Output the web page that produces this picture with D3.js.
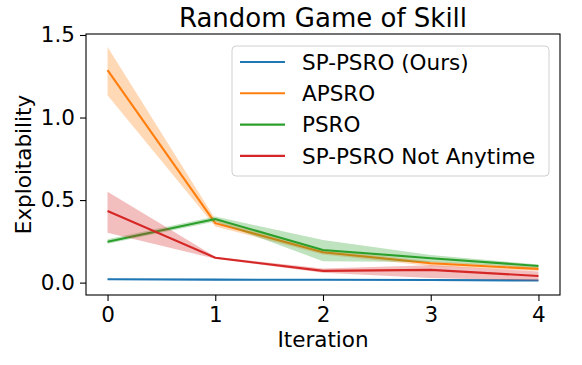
<!DOCTYPE html>
<html>
<head>
<meta charset="utf-8">
<script src="https://cdn.jsdelivr.net/npm/d3@7"></script>
<style>
  body { margin: 0; background: #fff; }
  svg { display: block; font-family: "DejaVu Sans", sans-serif; }
</style>
</head>
<body>
<div id="plotSect"></div>
<script>
// data
let iterations = [0, 1, 2, 3, 4];
let seriesNames = ["SP-PSRO (Ours)", "APSRO", "PSRO", "SP-PSRO Not Anytime"];
let seriesColors = ["#1f77b4", "#ff7f0e", "#2ca02c", "#d62728"];

let spMean  = [0.020, 0.018, 0.017, 0.016, 0.013];
let spLow   = [0.017, 0.015, 0.014, 0.013, 0.010];
let spHigh  = [0.023, 0.021, 0.020, 0.019, 0.016];

let apMean  = [1.287, 0.360, 0.184, 0.117, 0.083];
let apLow   = [1.135, 0.340, 0.170, 0.100, 0.070];
let apHigh  = [1.428, 0.385, 0.200, 0.130, 0.095];

let psMean  = [0.248, 0.385, 0.198, 0.148, 0.101];
let psLow   = [0.235, 0.370, 0.130, 0.125, 0.090];
let psHigh  = [0.262, 0.400, 0.258, 0.168, 0.110];

let naMean  = [0.434, 0.151, 0.071, 0.077, 0.040];
let naLow   = [0.302, 0.145, 0.060, 0.028, 0.012];
let naHigh  = [0.550, 0.157, 0.085, 0.105, 0.068];

let yTicks = [0, 0.5, 1.0, 1.5];

let series = [
    {name: seriesNames[0], color: seriesColors[0], mean: spMean, low: spLow, high: spHigh},
    {name: seriesNames[1], color: seriesColors[1], mean: apMean, low: apLow, high: apHigh},
    {name: seriesNames[2], color: seriesColors[2], mean: psMean, low: psLow, high: psHigh},
    {name: seriesNames[3], color: seriesColors[3], mean: naMean, low: naLow, high: naHigh}
];

// chart setup
let SVGwidth = 582,
SVGheight = 365,
margin = {top: 34, right: 22, bottom: 70, left: 86},
width = SVGwidth - margin.left - margin.right,
height = SVGheight - margin.top - margin.bottom;

let fontSize = 21.5;

let svg = d3.select("#plotSect").append("svg")
    .attr("width", SVGwidth)
    .attr("height", SVGheight)
    .append("g")
    .attr("transform", "translate(" + margin.left + "," + margin.top + ")");

let xScale = d3.scaleLinear().domain([-0.2, 4.2]).range([0, width]);
let yScale = d3.scaleLinear().domain([-0.075, 1.506]).range([height, 0]);

svg.append("clipPath").attr("id", "clip")
    .append("rect").attr("width", width).attr("height", height);

let plotArea = svg.append("g").attr("clip-path", "url(#clip)");

series.forEach(function(s) {
    let band = d3.area()
        .x(function(d, i) { return xScale(iterations[i]); })
        .y0(function(d, i) { return yScale(s.low[i]); })
        .y1(function(d, i) { return yScale(s.high[i]); });
    let line = d3.line()
        .x(function(d, i) { return xScale(iterations[i]); })
        .y(function(d) { return yScale(d); });

    plotArea.append("path")
        .datum(s.mean)
        .attr("d", line)
        .attr("fill", "none")
        .attr("stroke", s.color)
        .attr("stroke-width", 2.1);

    plotArea.append("path")
        .datum(s.mean)
        .attr("d", band)
        .attr("fill", s.color)
        .attr("fill-opacity", 0.3)
        .attr("stroke", "none");
});

// axes
let xAxis = d3.axisBottom(xScale).tickValues(iterations).tickFormat(d3.format("d"))
    .tickSizeInner(6).tickSizeOuter(0).tickPadding(6);
let yAxis = d3.axisLeft(yScale).tickValues(yTicks).tickFormat(d3.format(".1f"))
    .tickSizeInner(6).tickSizeOuter(0).tickPadding(5);

let gx = svg.append("g")
    .attr("transform", "translate(0," + height + ")")
    .call(xAxis);
let gy = svg.append("g").call(yAxis);

[gx, gy].forEach(function(g) {
    g.select(".domain").remove();
    g.selectAll(".tick line").attr("stroke", "#000").attr("stroke-width", 1.1);
    g.selectAll(".tick text")
        .attr("fill", "#000")
        .style("font-size", fontSize + "px")
        .style("font-family", "DejaVu Sans");
});
gx.selectAll(".tick text").attr("dy", "0.71em");

svg.append("rect")
    .attr("width", width)
    .attr("height", height)
    .attr("fill", "none")
    .attr("stroke", "#000")
    .attr("stroke-width", 1.1);

// labels
svg.append("text")
    .attr("x", width / 2)
    .attr("y", -7)
    .style("text-anchor", "middle")
    .style("font-size", "26px")
    .attr("fill", "#000")
    .text("Random Game of Skill");

svg.append("text")
    .attr("x", width / 2)
    .attr("y", height + 52)
    .style("text-anchor", "middle")
    .style("font-size", fontSize + "px")
    .attr("fill", "#000")
    .text("Iteration");

svg.append("text")
    .attr("transform", "rotate(-90)")
    .attr("x", -height / 2)
    .attr("y", -55)
    .style("text-anchor", "middle")
    .style("font-size", fontSize + "px")
    .attr("fill", "#000")
    .text("Exploitability");

// legend
let legendX = 232 - margin.left,
legendY = 46 - margin.top;

svg.append("rect")
    .attr("x", legendX)
    .attr("y", legendY)
    .attr("width", 317)
    .attr("height", 130)
    .attr("rx", 4)
    .attr("fill", "#fff")
    .attr("fill-opacity", 0.8)
    .attr("stroke", "#d0d0d0")
    .attr("stroke-width", 1);

let legend = svg.selectAll(".legend")
    .data(series)
    .enter().append("g")
    .attr("class", "legend")
    .attr("transform", function(d, i) { return "translate(" + legendX + "," + (legendY + 16 + i * 31.3) + ")"; });

legend.append("line")
    .attr("x1", 8)
    .attr("x2", 53)
    .attr("stroke", function(d) { return d.color; })
    .attr("stroke-width", 2.1);

legend.append("text")
    .attr("x", 70)
    .attr("y", 0)
    .attr("dy", "0.36em")
    .style("font-size", fontSize + "px")
    .attr("fill", "#000")
    .text(function(d) { return d.name; });
</script>
</body>
</html>
